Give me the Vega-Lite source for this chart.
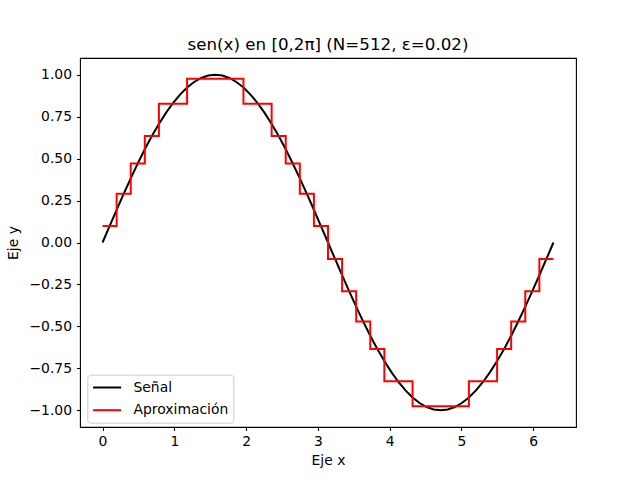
{
  "$schema": "https://vega.github.io/schema/vega-lite/v6.json",
  "width": 496,
  "height": 369,
  "autosize": {"type": "none"},
  "padding": {"left": 80, "top": 58, "right": 64, "bottom": 53},
  "background": "white",
  "title": {
    "text": "sen(x) en [0,2π] (N=512, ε=0.02)",
    "font": "DejaVu Sans",
    "fontSize": 16.7,
    "fontWeight": "normal",
    "color": "black",
    "anchor": "middle",
    "baseline": "alphabetic",
    "offset": 7,
    "dy": 16
  },
  "config": {
    "view": {"stroke": "black", "strokeWidth": 1.1},
    "font": "DejaVu Sans",
    "axis": {
      "grid": false,
      "domain": false,
      "tickColor": "black",
      "tickSize": 3.5,
      "tickWidth": 1.1,
      "labelColor": "black",
      "labelFont": "DejaVu Sans",
      "labelFontSize": 13.9,
      "labelPadding": 3.5,
      "titleColor": "black",
      "titleFont": "DejaVu Sans",
      "titleFontSize": 13.9,
      "titleFontWeight": "normal"
    },
    "legend": {
      "labelFont": "DejaVu Sans",
      "labelFontSize": 13.9,
      "labelColor": "black"
    }
  },
  "datasets": {
    "senal": [
      {"x": 0, "y": 0, "serie": "Señal"},
      {"x": 0.0982, "y": 0.098, "serie": "Señal"},
      {"x": 0.1963, "y": 0.1951, "serie": "Señal"},
      {"x": 0.2945, "y": 0.2903, "serie": "Señal"},
      {"x": 0.3927, "y": 0.3827, "serie": "Señal"},
      {"x": 0.4909, "y": 0.4714, "serie": "Señal"},
      {"x": 0.589, "y": 0.5556, "serie": "Señal"},
      {"x": 0.6872, "y": 0.6344, "serie": "Señal"},
      {"x": 0.7854, "y": 0.7071, "serie": "Señal"},
      {"x": 0.8836, "y": 0.773, "serie": "Señal"},
      {"x": 0.9817, "y": 0.8315, "serie": "Señal"},
      {"x": 1.0799, "y": 0.8819, "serie": "Señal"},
      {"x": 1.1781, "y": 0.9239, "serie": "Señal"},
      {"x": 1.2763, "y": 0.9569, "serie": "Señal"},
      {"x": 1.3744, "y": 0.9808, "serie": "Señal"},
      {"x": 1.4726, "y": 0.9952, "serie": "Señal"},
      {"x": 1.5708, "y": 1.0, "serie": "Señal"},
      {"x": 1.669, "y": 0.9952, "serie": "Señal"},
      {"x": 1.7671, "y": 0.9808, "serie": "Señal"},
      {"x": 1.8653, "y": 0.9569, "serie": "Señal"},
      {"x": 1.9635, "y": 0.9239, "serie": "Señal"},
      {"x": 2.0617, "y": 0.8819, "serie": "Señal"},
      {"x": 2.1598, "y": 0.8315, "serie": "Señal"},
      {"x": 2.258, "y": 0.773, "serie": "Señal"},
      {"x": 2.3562, "y": 0.7071, "serie": "Señal"},
      {"x": 2.4544, "y": 0.6344, "serie": "Señal"},
      {"x": 2.5525, "y": 0.5556, "serie": "Señal"},
      {"x": 2.6507, "y": 0.4714, "serie": "Señal"},
      {"x": 2.7489, "y": 0.3827, "serie": "Señal"},
      {"x": 2.8471, "y": 0.2903, "serie": "Señal"},
      {"x": 2.9452, "y": 0.1951, "serie": "Señal"},
      {"x": 3.0434, "y": 0.098, "serie": "Señal"},
      {"x": 3.1416, "y": 0, "serie": "Señal"},
      {"x": 3.2398, "y": -0.098, "serie": "Señal"},
      {"x": 3.3379, "y": -0.1951, "serie": "Señal"},
      {"x": 3.4361, "y": -0.2903, "serie": "Señal"},
      {"x": 3.5343, "y": -0.3827, "serie": "Señal"},
      {"x": 3.6325, "y": -0.4714, "serie": "Señal"},
      {"x": 3.7306, "y": -0.5556, "serie": "Señal"},
      {"x": 3.8288, "y": -0.6344, "serie": "Señal"},
      {"x": 3.927, "y": -0.7071, "serie": "Señal"},
      {"x": 4.0252, "y": -0.773, "serie": "Señal"},
      {"x": 4.1233, "y": -0.8315, "serie": "Señal"},
      {"x": 4.2215, "y": -0.8819, "serie": "Señal"},
      {"x": 4.3197, "y": -0.9239, "serie": "Señal"},
      {"x": 4.4179, "y": -0.9569, "serie": "Señal"},
      {"x": 4.516, "y": -0.9808, "serie": "Señal"},
      {"x": 4.6142, "y": -0.9952, "serie": "Señal"},
      {"x": 4.7124, "y": -1.0, "serie": "Señal"},
      {"x": 4.8106, "y": -0.9952, "serie": "Señal"},
      {"x": 4.9087, "y": -0.9808, "serie": "Señal"},
      {"x": 5.0069, "y": -0.9569, "serie": "Señal"},
      {"x": 5.1051, "y": -0.9239, "serie": "Señal"},
      {"x": 5.2033, "y": -0.8819, "serie": "Señal"},
      {"x": 5.3014, "y": -0.8315, "serie": "Señal"},
      {"x": 5.3996, "y": -0.773, "serie": "Señal"},
      {"x": 5.4978, "y": -0.7071, "serie": "Señal"},
      {"x": 5.596, "y": -0.6344, "serie": "Señal"},
      {"x": 5.6941, "y": -0.5556, "serie": "Señal"},
      {"x": 5.7923, "y": -0.4714, "serie": "Señal"},
      {"x": 5.8905, "y": -0.3827, "serie": "Señal"},
      {"x": 5.9887, "y": -0.2903, "serie": "Señal"},
      {"x": 6.0868, "y": -0.1951, "serie": "Señal"},
      {"x": 6.185, "y": -0.098, "serie": "Señal"},
      {"x": 6.2832, "y": 0, "serie": "Señal"}
    ],
    "aprox": [
      {"x": 0, "y": 0.098, "serie": "Aproximación"},
      {"x": 0.1963, "y": 0.2903, "serie": "Aproximación"},
      {"x": 0.3927, "y": 0.4714, "serie": "Aproximación"},
      {"x": 0.589, "y": 0.6344, "serie": "Aproximación"},
      {"x": 0.7854, "y": 0.827, "serie": "Aproximación"},
      {"x": 1.1781, "y": 0.9762, "serie": "Aproximación"},
      {"x": 1.9635, "y": 0.827, "serie": "Aproximación"},
      {"x": 2.3562, "y": 0.6344, "serie": "Aproximación"},
      {"x": 2.5525, "y": 0.4714, "serie": "Aproximación"},
      {"x": 2.7489, "y": 0.2903, "serie": "Aproximación"},
      {"x": 2.9452, "y": 0.098, "serie": "Aproximación"},
      {"x": 3.1416, "y": -0.098, "serie": "Aproximación"},
      {"x": 3.3379, "y": -0.2903, "serie": "Aproximación"},
      {"x": 3.5343, "y": -0.4714, "serie": "Aproximación"},
      {"x": 3.7306, "y": -0.6344, "serie": "Aproximación"},
      {"x": 3.927, "y": -0.827, "serie": "Aproximación"},
      {"x": 4.3197, "y": -0.9762, "serie": "Aproximación"},
      {"x": 5.1051, "y": -0.827, "serie": "Aproximación"},
      {"x": 5.4978, "y": -0.6344, "serie": "Aproximación"},
      {"x": 5.6941, "y": -0.4714, "serie": "Aproximación"},
      {"x": 5.8905, "y": -0.2903, "serie": "Aproximación"},
      {"x": 6.0868, "y": -0.098, "serie": "Aproximación"},
      {"x": 6.2832, "y": -0.098, "serie": "Aproximación"}
    ]
  },
  "encoding": {
    "x": {
      "field": "x",
      "type": "quantitative",
      "scale": {"domain": [-0.31416, 6.59734], "nice": false, "zero": false},
      "axis": {"title": "Eje x", "values": [0, 1, 2, 3, 4, 5, 6], "format": "d", "titlePadding": 6}
    },
    "y": {
      "field": "y",
      "type": "quantitative",
      "scale": {"domain": [-1.1, 1.1], "nice": false, "zero": false},
      "axis": {"title": "Eje y", "values": [-1, -0.75, -0.5, -0.25, 0, 0.25, 0.5, 0.75, 1], "format": ".2f", "labelPadding": 5, "titlePadding": 8}
    },
    "color": {
      "field": "serie",
      "type": "nominal",
      "scale": {"domain": ["Señal", "Aproximación"], "range": ["#000000", "#ff0000"]},
      "legend": {
        "title": null,
        "orient": "none",
        "legendX": 7.3,
        "legendY": 316.7,
        "symbolType": "M-1,0L3,0",
        "symbolSize": 196,
        "symbolStrokeWidth": 2,
        "labelOffset": 25.4,
        "rowPadding": 7.7,
        "padding": 4.8,
        "fillColor": "rgba(255,255,255,0.8)",
        "strokeColor": "#cccccc",
        "cornerRadius": 3
      }
    }
  },
  "layer": [
    {
      "data": {"name": "senal"},
      "mark": {"type": "line", "strokeWidth": 2, "clip": true}
    },
    {
      "data": {"name": "aprox"},
      "mark": {"type": "line", "strokeWidth": 2, "interpolate": "step-after", "clip": true}
    }
  ]
}
